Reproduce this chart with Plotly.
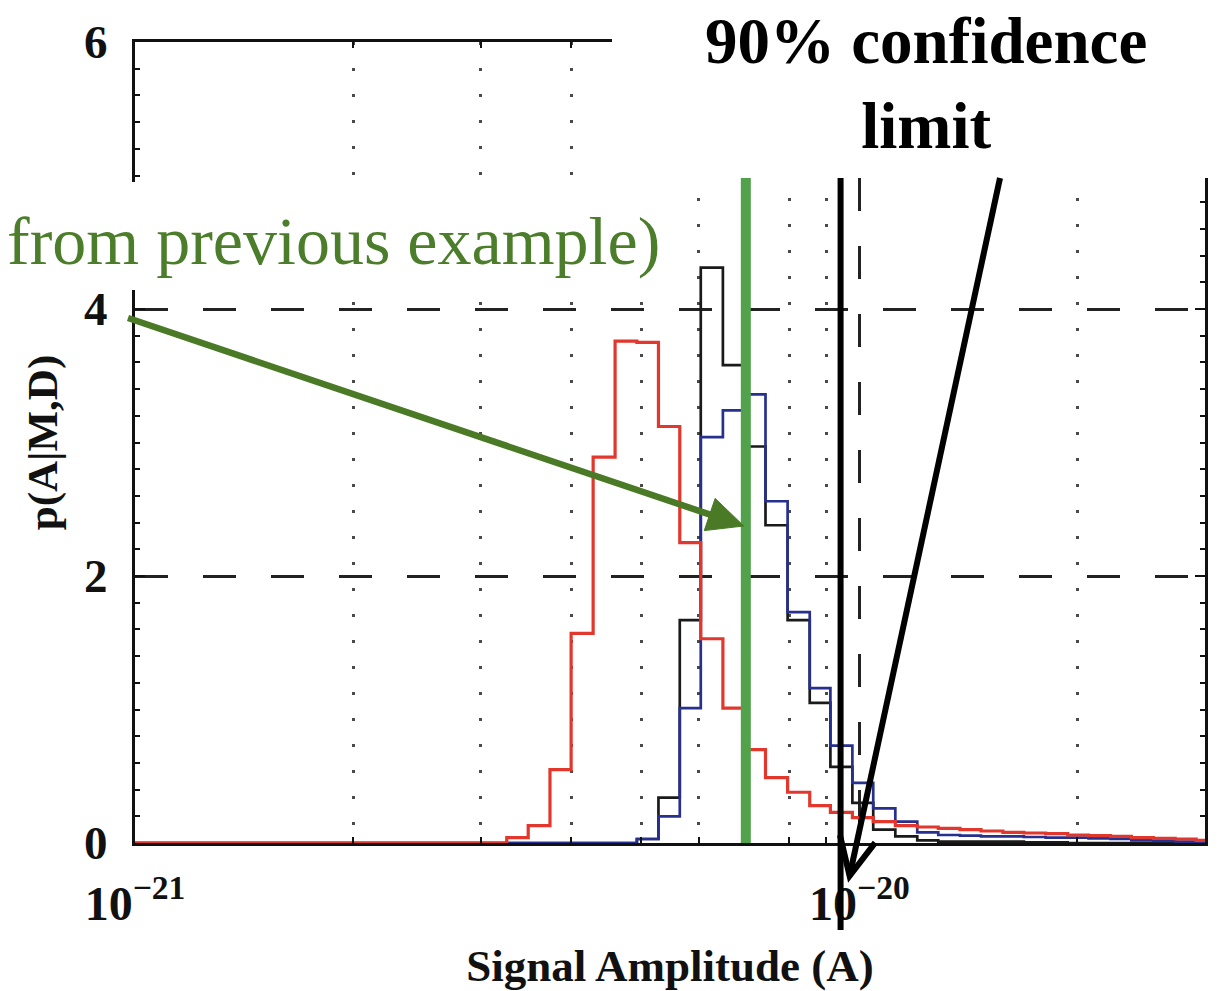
import numpy as np
import plotly.graph_objects as go

# ---------------- data ----------------
# stair edges of the histograms, in units of 1e-21
edges_e21 = [1.00, 3.26, 3.49, 3.74, 4.00, 4.29, 4.60, 4.93, 5.28, 5.65, 6.04,
             6.48, 6.95, 7.42, 7.96, 8.54, 9.12, 9.78, 10.45, 11.21, 12.02,
             12.85, 13.77, 14.72, 15.78, 16.87, 18.08, 19.39, 20.72, 22.22,
             23.74, 25.46, 27.29, 29.17, 30.0]

red_vals = [0, 0.04, 0.13, 0.55, 1.57, 2.89, 3.76, 3.75, 3.12, 2.25, 1.53,
            1.01, 0.70, 0.49, 0.38, 0.28, 0.23, 0.19, 0.16, 0.13, 0.12, 0.11,
            0.10, 0.09, 0.08, 0.075, 0.07, 0.06, 0.055, 0.05, 0.04, 0.035,
            0.03, 0.02]
black_vals = [0, 0, 0, 0, 0, 0, 0, 0.03, 0.34, 1.67, 4.31, 3.58, 2.97, 2.38,
              1.67, 1.05, 0.57, 0.30, 0.10, 0.05, 0.02, 0.01, 0.01, 0.01,
              0.01, 0.005, 0.005, 0, 0, 0, 0, 0, 0, 0]
blue_vals = [0, 0, 0, 0, 0, 0, 0, 0.03, 0.20, 1.01, 3.04, 3.24, 3.36, 2.56,
             1.73, 1.16, 0.73, 0.45, 0.26, 0.16, 0.08, 0.06, 0.055, 0.05,
             0.05, 0.045, 0.04, 0.04, 0.035, 0.03, 0.02, 0.015, 0.01, 0.01]

previous_value = 6.97e-21     # green line (from previous example)
limit_value = 9.42e-21        # 90% confidence limit

x_range = [1e-21, 3e-20]
y_range = [0, 6]
x_tickvals = [1e-21, 1e-20]
x_ticktext = ["10<sup>\u221221</sup>", "10<sup>\u221220</sup>"]
x_minor_vals = [2e-21, 3e-21, 4e-21, 5e-21, 6e-21, 7e-21, 8e-21, 9e-21, 2e-20, 3e-20]
y_tickvals = [0, 2, 4, 6]
y_ticktext = ["0", "2", "4", "6"]
y_minor_step = 0.2
x_title = "Signal Amplitude (A)"
y_title = "p(A|M,D)"

# ---------------- layout geometry ----------------
W, H = 1219, 991
ML, MR, MT, MB = 135, 14, 42, 148
PW, PH = W - ML - MR, H - MT - MB
LOG_LO, LOG_HI = np.log10(x_range[0]), np.log10(x_range[1])


def pxx(px):
    return (px - ML) / PW


def pxy(py):
    return (H - MB - py) / PH


def val_px(v):
    return ML + PW * (np.log10(v) - LOG_LO) / (LOG_HI - LOG_LO)


SERIF = "Liberation Serif"
INK = "#111111"

fig = go.Figure()

xs = [e * 1e-21 for e in edges_e21]
for vals, color, width in [(black_vals, "#1a1a1a", 2.7),
                           (blue_vals, "#27308e", 2.7),
                           (red_vals, "#e2372c", 3.2)]:
    fig.add_trace(go.Scatter(x=xs, y=vals + [vals[-1]], mode="lines",
                             line=dict(color=color, width=width, shape="hv"),
                             hoverinfo="skip", showlegend=False))

# vertical markers
fig.add_shape(type="line", xref="x", yref="y", x0=previous_value, x1=previous_value,
              y0=0, y1=6, line=dict(color="#52a24c", width=10), layer="above")
fig.add_shape(type="line", xref="x", yref="paper", x0=limit_value, x1=limit_value,
              y0=pxy(930), y1=1.0, line=dict(color="black", width=6), layer="above")

# white cut-outs of the slide composite
fig.add_shape(type="rect", xref="paper", yref="paper", x0=pxx(612), x1=pxx(W + 20),
              y0=pxy(178), y1=pxy(-20), fillcolor="white", line=dict(width=0), layer="above")
fig.add_shape(type="rect", xref="paper", yref="paper", x0=pxx(-20), x1=pxx(666),
              y0=pxy(290), y1=pxy(182), fillcolor="white", line=dict(width=0), layer="above")


def arrow(tail, tip, color, width, head_len, head_half, filled):
    (x0, y0), (x1, y1) = tail, tip
    dx, dy = x1 - x0, y1 - y0
    n = np.hypot(dx, dy)
    ux, uy = dx / n, dy / n
    px_, py_ = -uy, ux
    bx, by = x1 - head_len * ux, y1 - head_len * uy
    c1 = (bx + head_half * px_, by + head_half * py_)
    c2 = (bx - head_half * px_, by - head_half * py_)
    end = (bx + 2 * ux, by + 2 * uy) if filled else (x1, y1)
    fig.add_shape(type="line", xref="paper", yref="paper",
                  x0=pxx(x0), y0=pxy(y0), x1=pxx(end[0]), y1=pxy(end[1]),
                  line=dict(color=color, width=width), layer="above")
    pts = [c1, (x1, y1), c2]
    path = "M{:.5f},{:.5f} L{:.5f},{:.5f} L{:.5f},{:.5f}".format(
        pxx(pts[0][0]), pxy(pts[0][1]), pxx(pts[1][0]), pxy(pts[1][1]),
        pxx(pts[2][0]), pxy(pts[2][1]))
    if filled:
        fig.add_shape(type="path", xref="paper", yref="paper", path=path + " Z",
                      fillcolor=color, line=dict(color=color, width=1), layer="above")
    else:
        fig.add_shape(type="path", xref="paper", yref="paper", path=path,
                      line=dict(color=color, width=width), layer="above")


# green arrow pointing at the previous-example value
arrow((128, 318), (val_px(previous_value) - 2, 526), "#4a7a25", 6.5, 36, 17, True)
# black arrow pointing at the confidence limit
arrow((1000, 178), (val_px(limit_value) + 9, 876), "black", 6, 38, 18, False)

fig.update_layout(
    width=W, height=H, margin=dict(l=ML, r=MR, t=MT, b=MB),
    plot_bgcolor="white", paper_bgcolor="white", showlegend=False,
)

fig.update_xaxes(
    type="log", range=[LOG_LO, LOG_HI],
    showline=True, linecolor=INK, linewidth=3, mirror="allticks",
    tickmode="array", tickvals=x_tickvals, ticktext=x_ticktext,
    ticks="inside", ticklen=10, tickwidth=2, tickcolor=INK,
    tickfont=dict(family=SERIF, size=48, color=INK, weight="bold"),
    ticklabelstandoff=16,
    showgrid=True, gridcolor="#222222", gridwidth=2.6, griddash="33px,35px",
    minor=dict(tickvals=x_minor_vals, ticks="inside", ticklen=6, tickwidth=2,
               tickcolor=INK, showgrid=True, gridcolor="#4a4a4a", gridwidth=2.8,
               griddash="3px,23px"),
    zeroline=False, automargin=False,
    title=dict(text=x_title, standoff=30,
               font=dict(family=SERIF, size=45, color=INK, weight="bold")),
)
fig.update_yaxes(
    range=y_range, showline=True, linecolor=INK, linewidth=3, mirror="allticks",
    tickmode="array", tickvals=y_tickvals, ticktext=y_ticktext,
    ticks="inside", ticklen=10, tickwidth=2, tickcolor=INK,
    tickfont=dict(family=SERIF, size=47, color=INK, weight="bold"),
    ticklabelstandoff=15,
    showgrid=True, gridcolor="#222222", gridwidth=2.6, griddash="33px,35px",
    minor=dict(dtick=y_minor_step, tick0=0, ticks="inside", ticklen=5, tickwidth=2,
               tickcolor=INK, showgrid=False),
    zeroline=False, automargin=False,
    title=dict(text=y_title, standoff=14,
               font=dict(family=SERIF, size=43, color=INK, weight="bold")),
)

# call-out texts
fig.add_annotation(text="90% confidence<br>limit", xref="paper", yref="paper",
                   x=pxx(926), y=pxy(83), xanchor="center", yanchor="middle",
                   showarrow=False, align="center",
                   font=dict(family=SERIF, size=65, color="black", weight="bold"))
fig.add_annotation(text="from previous example)", xref="paper", yref="paper",
                   x=pxx(662), y=pxy(241), xanchor="right", yanchor="middle",
                   showarrow=False,
                   font=dict(family=SERIF, size=68, color="#4b7d2b"))

fig.write_html("out.html")
